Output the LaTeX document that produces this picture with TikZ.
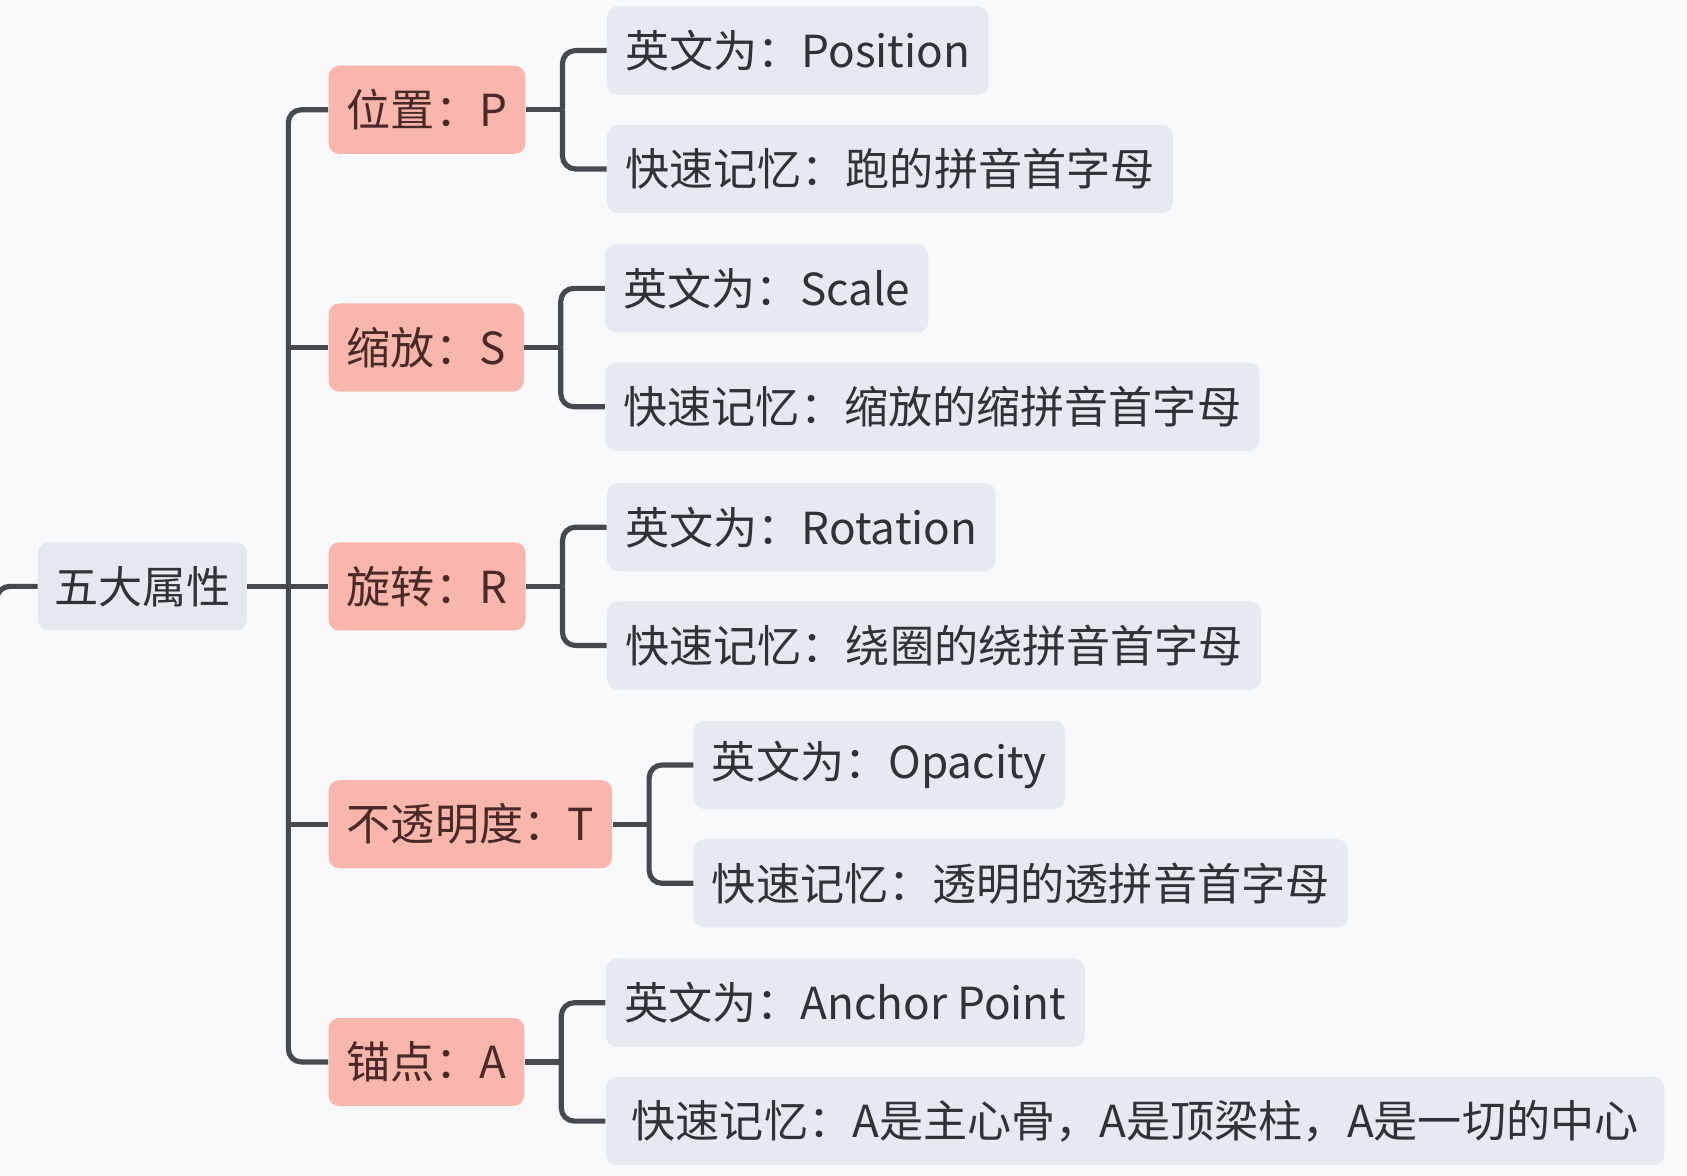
\documentclass[tikz,border=0pt]{standalone}
\usepackage{fontspec}
\setmainfont{Noto Sans CJK SC}
\usetikzlibrary{positioning}
\definecolor{bgcol}{HTML}{F8F9FB}
\definecolor{rootcol}{HTML}{E4E9F0}
\definecolor{attrcol}{HTML}{F8B6AC}
\definecolor{leafcol}{HTML}{E5EAF1}
\definecolor{linecol}{HTML}{464A50}
\definecolor{inkcol}{HTML}{2F3337}
\definecolor{attrink}{HTML}{4A2A28}
\tikzset{
  base/.style={rounded corners=5pt,inner xsep=8.5pt,minimum height=41pt,
    font=\fontsize{20.5}{24}\selectfont,anchor=west},
  rootbox/.style={base,fill=rootcol,text=inkcol},
  attrbox/.style={base,fill=attrcol,text=attrink},
  leafbox/.style={base,fill=leafcol,text=inkcol},
  branch/.style={draw=linecol,line width=2.4pt,rounded corners=6pt},
}

\begin{document}
\begin{tikzpicture}[x=0.5pt,y=-0.5pt]
\useasboundingbox (0,0) rectangle (1568,1093);
\fill[bgcol] (0,0) rectangle (1568,1093);

% root and trunk
\node[rootbox,inner xsep=7.5pt] (root) at (35,545) {五大属性};
\coordinate (trunk) at (268,545);
\coordinate (rootbend) at (-3,545);
\coordinate (rootdown) at (-3,1200);

% five attributes
\node[attrbox] (pos) at (305,102) {位置：P};
\node[attrbox] (scl) at (305,323) {缩放：S};
\node[attrbox] (rot) at (305,545) {旋转：R};
\node[attrbox] (opa) at (305,766) {不透明度：T};
\node[attrbox] (anc) at (305,987) {锚点：A};

\coordinate (posfork) at ([shift={(34,0)}]pos.east);
\coordinate (sclfork) at ([shift={(34,0)}]scl.east);
\coordinate (rotfork) at ([shift={(34,0)}]rot.east);
\coordinate (opafork) at ([shift={(34,0)}]opa.east);
\coordinate (ancfork) at ([shift={(34,0)}]anc.east);

% leaves
\node[leafbox] (pos1) at ([shift={(41,-55)}]posfork) {英文为：Position};
\node[leafbox] (pos2) at ([shift={(41,55)}]posfork) {快速记忆：跑的拼音首字母};
\node[leafbox] (scl1) at ([shift={(41,-55)}]sclfork) {英文为：Scale};
\node[leafbox] (scl2) at ([shift={(41,55)}]sclfork) {快速记忆：缩放的缩拼音首字母};
\node[leafbox] (rot1) at ([shift={(41,-55)}]rotfork) {英文为：Rotation};
\node[leafbox] (rot2) at ([shift={(41,55)}]rotfork) {快速记忆：绕圈的绕拼音首字母};
\node[leafbox] (opa1) at ([shift={(41,-55)}]opafork) {英文为：Opacity};
\node[leafbox] (opa2) at ([shift={(41,55)}]opafork) {快速记忆：透明的透拼音首字母};
\node[leafbox] (anc1) at ([shift={(41,-55)}]ancfork) {英文为：Anchor Point};
\node[leafbox,inner xsep=12pt] (anc2) at ([shift={(41,55)}]ancfork) {快速记忆：A是主心骨，A是顶梁柱，A是一切的中心};

% connectors
\draw[branch] (root.west) -- (rootbend) -- (rootdown);
\draw[branch] (root.east) -- (trunk);
\draw[branch] (pos.west) -| (trunk);
\draw[branch] (anc.west) -| (trunk);
\draw[branch] (scl.west) -- (scl.west -| trunk);
\draw[branch] (rot.west) -- (trunk);
\draw[branch] (opa.west) -- (opa.west -| trunk);

\draw[branch] (pos.east) -- (posfork);
\draw[branch] (pos1.west) -| (posfork);
\draw[branch] (pos2.west) -| (posfork);
\draw[branch] (scl.east) -- (sclfork);
\draw[branch] (scl1.west) -| (sclfork);
\draw[branch] (scl2.west) -| (sclfork);
\draw[branch] (rot.east) -- (rotfork);
\draw[branch] (rot1.west) -| (rotfork);
\draw[branch] (rot2.west) -| (rotfork);
\draw[branch] (opa.east) -- (opafork);
\draw[branch] (opa1.west) -| (opafork);
\draw[branch] (opa2.west) -| (opafork);
\draw[branch] (anc.east) -- (ancfork);
\draw[branch] (anc1.west) -| (ancfork);
\draw[branch] (anc2.west) -| (ancfork);

\end{tikzpicture}
\end{document}
